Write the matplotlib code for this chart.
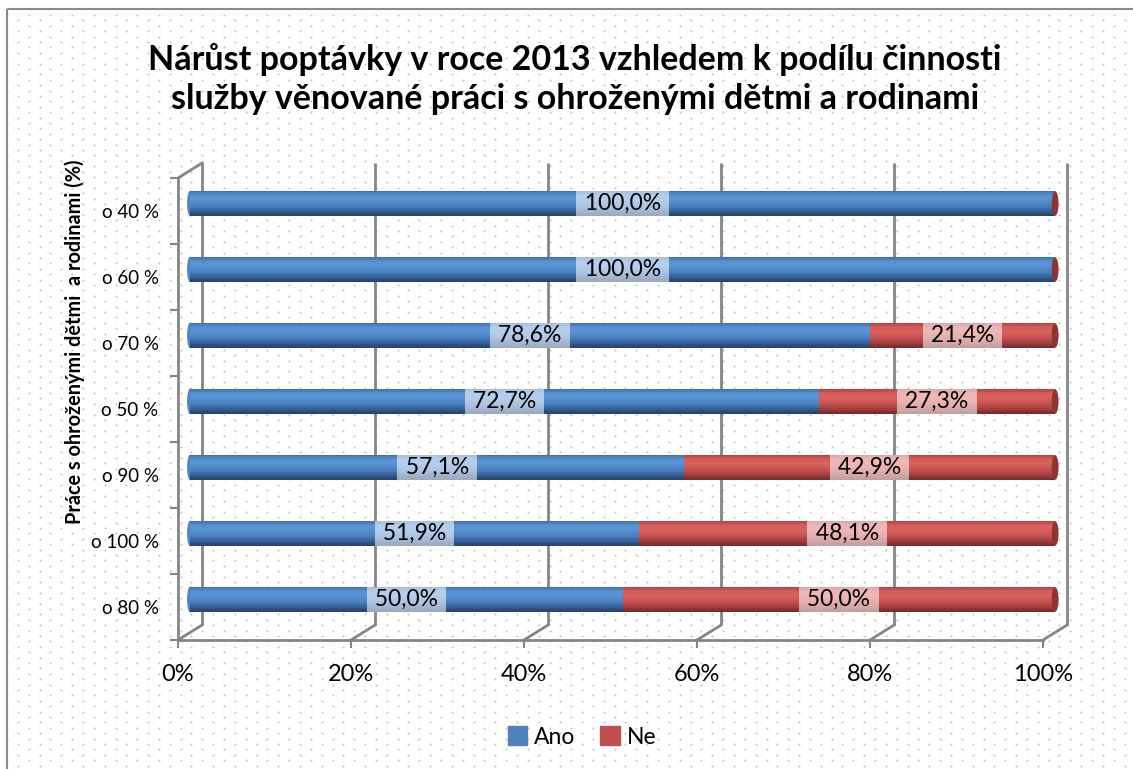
import matplotlib
matplotlib.use("Agg")
import matplotlib.pyplot as plt
import numpy as np
from matplotlib.colors import LinearSegmentedColormap
from matplotlib.patches import Patch, Rectangle, Ellipse

plt.rcParams['font.family'] = ['Lato', 'DejaVu Sans']

# data (top to bottom as shown in the chart)
categories = ['o 40 %', 'o 60 %', 'o 70 %', 'o 50 %', 'o 90 %', 'o 100 %', 'o 80 %']
ano = [100.0, 100.0, 78.6, 72.7, 57.1, 51.9, 50.0]
ne = [0.0, 0.0, 21.4, 27.3, 42.9, 48.1, 50.0]
x_ticks = [0, 20, 40, 60, 80, 100]
series_names = ['Ano', 'Ne']

title = "Nárůst poptávky v roce 2013 vzhledem k podílu činnosti\nslužby věnované práci s ohroženými dětmi a rodinami"
ylabel = "Práce s ohroženými dětmi  a rodinami (%)"

BLUE = '#4F81BD'
RED = '#C0504D'
GRID = '#858585'
# gradients listed bottom -> top of the bar
blue_cmap = LinearSegmentedColormap.from_list(
    'blue3d', ['#233f63', '#2f5586', '#4276b6', '#5089c9', '#5b94d5', '#5590d0', '#3d6aa3'])
red_cmap = LinearSegmentedColormap.from_list(
    'red3d', ['#6e2624', '#93393a', '#b94a47', '#cf5855', '#d9625f', '#d25c59', '#a9403d'])

BAR_H = 0.39
N_STRIPES = 16
MID_X, MID_Y = 1.4, 0.114     # bar depth offset (half of wall depth)
BACK_X, BACK_Y = 2.8, 0.228   # back wall offset


def fmt(v):
    return f" {v:.1f}% ".replace('.', ',')


W, H = 1133, 769
fig = plt.figure(figsize=(W / 100, H / 100), dpi=100)

# background with dotted pattern and border
bg = fig.add_axes([0, 0, 1, 1], zorder=-5)
bg.set_xlim(0, W)
bg.set_ylim(H, 0)
bg.axis('off')
for ox, oy in [(0, 0), (10.85, 5.4)]:
    gx, gy = np.meshgrid(np.arange(7 + ox, W, 21.7), np.arange(15 + oy, H, 10.8))
    bg.scatter(gx.ravel(), gy.ravel(), s=2.2, color='#c4c4c4', linewidths=0)
bg.add_patch(Rectangle((7, 9), 1200, 800, fill=False, ec='#8a8a8a', lw=1.5))

ax = fig.add_axes([178 / W, 1 - 640 / H, 865 / W, 462 / H])
ax.set_facecolor('none')
n = len(categories)
pos = np.arange(n)[::-1]

ax.set_xlim(0, 100)
ax.set_ylim(-0.5, n - 0.5)

# back wall gridlines + floor / side diagonals
for xt in x_ticks:
    ax.plot([xt + BACK_X, xt + BACK_X], [-0.5 + BACK_Y, n - 0.5 + BACK_Y],
            color=GRID, lw=2, zorder=1, clip_on=False, solid_capstyle='butt')
    ax.plot([xt, xt + BACK_X], [-0.5, -0.5 + BACK_Y], color=GRID, lw=2,
            zorder=1, clip_on=False)
ax.plot([0, BACK_X], [n - 0.5, n - 0.5 + BACK_Y], color=GRID, lw=2,
        zorder=1, clip_on=False)

# stacked 3d-looking bars
sh = BAR_H / N_STRIPES
for i in range(n):
    yb = pos[i] + MID_Y - BAR_H / 2
    for k in range(N_STRIPES):
        t = (k + 0.5) / N_STRIPES
        bars = ax.barh(yb + k * sh, ano[i], height=sh * 1.05, left=MID_X, align='edge',
                       color=blue_cmap(t), lw=0, zorder=3)
        if ne[i] > 0:
            bars = list(bars) + list(ax.barh(yb + k * sh, ne[i], height=sh * 1.05,
                                             left=MID_X + ano[i], align='edge',
                                             color=red_cmap(t), lw=0, zorder=3))
        for b in bars:
            b.set_clip_on(False)
    # bar ends
    ax.add_patch(Ellipse((MID_X, pos[i] + MID_Y), 0.7, BAR_H,
                         color='#4f86c6', lw=0, zorder=2.9, clip_on=False))
    ax.add_patch(Ellipse((MID_X + 100, pos[i] + MID_Y), 0.8, BAR_H * 0.95,
                         color='#8e3432', lw=0, zorder=4, clip_on=False))

    ax.text(MID_X + ano[i] / 2, pos[i] + MID_Y, fmt(ano[i]), ha='center', va='center',
            fontsize=16.5, color='black', zorder=6,
            bbox=dict(boxstyle='square,pad=0.1', fc='white', ec='none', alpha=0.55))
    if ne[i] > 0:
        ax.text(MID_X + ano[i] + ne[i] / 2, pos[i] + MID_Y, fmt(ne[i]),
                ha='center', va='center', fontsize=16.5, color='black', zorder=6,
                bbox=dict(boxstyle='square,pad=0.1', fc='white', ec='none', alpha=0.55))

# front axes
for s in ['top', 'right']:
    ax.spines[s].set_visible(False)
for s in ['left', 'bottom']:
    ax.spines[s].set_color(GRID)
    ax.spines[s].set_linewidth(2)
    ax.spines[s].set_zorder(2)

ax.set_xticks(x_ticks, [f"{v}%" for v in x_ticks])
ax.set_yticks(pos, categories)
ax.set_yticks(np.arange(-0.5, n, 1.0), minor=True)
ax.tick_params(axis='x', length=6, width=1.5, color=GRID, labelsize=17, pad=11)
ax.tick_params(axis='y', which='major', length=0, labelsize=13.5, pad=14)
ax.tick_params(axis='y', which='minor', length=6, width=1.5, color=GRID)

fig.text(75 / W, 1 - 342 / H, ylabel, rotation=90, ha='center', va='center',
         fontsize=14.3, fontweight='bold')

fig.text(575 / W, 1 - 79 / H, title, ha='center', va='center', fontsize=24.5,
         fontweight='bold', linespacing=1.25)

handles = [Patch(color=BLUE), Patch(color=RED)]
fig.legend(handles, series_names, loc='center', bbox_to_anchor=(582 / W, 1 - 737 / H),
           ncol=2, frameon=False, fontsize=16.5, handlelength=0.85, handleheight=0.85,
           handletextpad=0.3, columnspacing=1.1)

fig.savefig('out.png', dpi=100)
